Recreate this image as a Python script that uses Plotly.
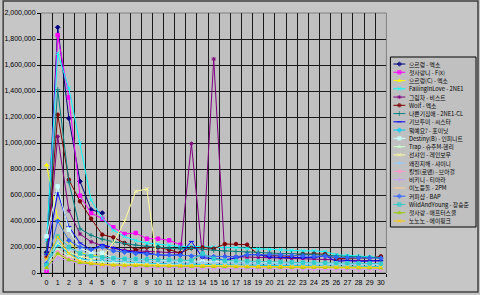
import plotly.graph_objects as go

days = list(range(31))

names = [
    "으르렁 - 엑소", "첫사랑니 - F(x)", "으르렁(C) - 엑소", "FallingInLove - 2NE1",
    "그림자 - 비스트", "Wolf - 엑소", "나쁜기집애 - 2NE1-CL", "기브투미 - 씨스타",
    "뭐예요? - 포미닛", "Destiny(B) - 인피니트", "Trap - 슈주M-헨리", "선샤인 - 레인보우",
    "왜진지해 - 샤이니", "킬빌(로맨) - 브아걸", "비키니 - 티아라", "이노듣돌 - 2PM",
    "커피샵 - BAP", "WildAndYoung - 장승준", "첫사랑 - 애프터스쿨", "노노노 - 에이핑크",
]

colors = [
    "#000080", "#FF00FF", "#FFFF00", "#00FFFF", "#800080", "#800000", "#008080", "#0000FF",
    "#00CCFF", "#CCFFFF", "#CCFFCC", "#FFFF99", "#99CCFF", "#FF99CC", "#CC99FF", "#FFCC99",
    "#3366FF", "#33CCCC", "#99CC00", "#FFCC00",
]

growl = [160000, 1890000, 1190000, 705000, 487000, 462000]
rumpum = [12000, 1830000, 1350000, 595000, 461000, 418000, 351000, 300000, 308000, 264000,
          264000, 251000, 218000]
growl_c = [830000, 418000, 243000, 156000, 141000, 120000]
falling = [250000, 1690000, 1420000, 1000000, 560000, 420000, 330000, 280000, 250000, 230000,
           220000, 215000, 205000, 205000, 200000, 200000, 195000, 195000, 190000, 185000,
           180000, 180000, 175000, 170000, 170000, 165000, 140000, 135000, 130000, 125000, 120000]
shadow = [90000, 1050000, 480000, 300000, 240000, 210000, 190000, 175000, 170000, 165000,
          160000, 158000, 156000, 995000, 118000, 1646000, 128000, 125000, 122000, 120000,
          118000, 115000, 112000, 110000, 108000, 105000, 100000, 98000, 96000, 95000, 93000]
wolf = [120000, 1218000, 718000, 551000, 418000, 295000, 274000, 231000, 179000, 197000,
        197000, 179000, 154000, 192000, 197000, 187000, 223000, 223000, 218000, 141000,
        133000, 133000, 128000, 146000, 148000, 146000, 110000, 115000, 115000, 115000, 128000]
baddest = [150000, 1410000, 700000, 340000, 290000, 260000, 240000, 225000, 215000, 205000,
           200000, 190000, 185000, 190000, 180000, 175000, 170000, 165000, 160000, 160000,
           155000, 150000, 150000, 145000, 145000, 140000, 130000, 125000, 125000, 120000, 115000]
giveit = [140000, 617000, 358000, 231000, 179000, 218000, 195000, 170000, 160000, 154000,
          140000, 135000, 141000, 243000, 118000, 108000, 102000, 115000, 141000, 141000,
          123000, 120000, 118000, 115000, 118000, 133000, 90000, 95000, 90000, 92000, 95000]
whatname = [60000, 220000, 150000, 110000, 95000, 90000, 85000, 80000, 78000, 75000,
            72000, 70000, 70000, 68000, 66000, 65000, 64000, 62000, 60000, 60000,
            58000, 57000, 56000, 55000, 54000, 53000, 52000, 51000, 50000, 50000, 49000]
destiny = [282000, 666000, 333000, 192000, 154000, 154000, 115000, 110000, 105000, 100000,
           98000, 95000, 92000, 90000, 88000, 90000, 92000, 88000, 85000, 85000,
           82000, 80000, 80000, 78000, 77000, 75000, 72000, 70000, 70000, 68000, 66000]
trap = [70000, 180000, 130000, 100000, 90000, 85000, 80000, 75000, 70000, 68000,
        65000, 62000, 60000, 58000, 56000, 55000, 54000, 52000, 50000, 50000,
        48000, 47000, 46000, 45000, 44000, 43000, 42000, 41000, 40000, 40000, 39000]
sunshine = [100000, 230000, 160000, 130000, 110000, 120000, 233000, 397000, 628000, 646000,
            40000, 60000, 58000, 56000, 55000, 54000, 53000, 52000, 50000, 50000,
            49000, 48000, 47000, 46000, 45000, 44000, 43000, 42000, 41000, 40000, 40000]
serious = [90000, 250000, 179000, 179000, 130000, 110000, 100000, 95000, 92000, 90000,
           88000, 86000, 84000, 82000, 80000, 80000, 78000, 76000, 75000, 74000,
           72000, 71000, 70000, 69000, 68000, 67000, 66000, 65000, 64000, 63000, 62000]
killbill = [40000, 160000, 110000, 85000, 70000, 60000, 55000, 50000, 48000, 46000,
            45000, 44000, 43000, 42000, 41000, 40000, 39000, 38000, 37000, 36000,
            35000, 35000, 34000, 33000, 32000, 31000, 30000, 30000, 29000, 29000, 28000]
bikini = [30000, 120000, 90000, 70000, 60000, 55000, 50000, 48000, 46000, 44000,
          42000, 41000, 40000, 39000, 38000, 37000, 36000, 35000, 34000, 33000,
          32000, 32000, 31000, 30000, 30000, 29000, 28000, 28000, 27000, 27000, 26000]
comeback = [50000, 140000, 100000, 80000, 70000, 65000, 60000, 58000, 56000, 54000,
            52000, 50000, 49000, 48000, 47000, 46000, 45000, 44000, 43000, 42000,
            41000, 40000, 40000, 39000, 38000, 37000, 36000, 36000, 35000, 35000, 34000]
coffee = [70000, 400000, 250000, 200000, 180000, 200000, 170000, 160000, 150000, 145000,
          140000, 138000, 135000, 130000, 128000, 126000, 125000, 124000, 140000, 142000,
          140000, 138000, 135000, 130000, 128000, 130000, 120000, 118000, 116000, 115000, 114000]
wild = [60000, 280000, 200000, 150000, 130000, 120000, 115000, 110000, 108000, 105000,
        102000, 100000, 98000, 96000, 150000, 110000, 95000, 92000, 90000, 88000,
        86000, 84000, 82000, 80000, 80000, 78000, 76000, 75000, 74000, 73000, 72000]
firstlove = [40000, 150000, 100000, 80000, 70000, 65000, 60000, 58000, 56000, 55000,
             54000, 53000, 52000, 51000, 50000, 49000, 48000, 47000, 46000, 45000,
             44000, 44000, 43000, 42000, 42000, 41000, 40000, 40000, 39000, 39000, 38000]
nonono = [108000, 277000, 150000, 90000, 77000, 64000, 62000, 60000, 64000, 64000,
          60000, 58000, 56000, 56000, 55000, 54000, 55000, 52000, 52000, 50000,
          50000, 50000, 48000, 48000, 47000, 46000, 46000, 45000, 45000, 44000, 44000]

series = [growl, rumpum, growl_c, falling, shadow, wolf, baddest, giveit, whatname, destiny,
          trap, sunshine, serious, killbill, bikini, comeback, coffee, wild, firstlove, nonono]

symbol_cycle = ["diamond", "square", "triangle-up", "x-thin-open", "asterisk-open",
                "circle", "cross-thin-open", "line-ew-open"]

FONT = "Liberation Sans, Noto Sans CJK KR, sans-serif"
KFONT = "Noto Sans CJK KR, Liberation Sans, sans-serif"

fig = go.Figure()

for i, (nm, col, vals) in enumerate(zip(names, colors, series)):
    sym = symbol_cycle[i % len(symbol_cycle)]
    mk = dict(symbol=sym, size=3.5, color=col, line=dict(color=col, width=1))
    fig.add_trace(go.Scatter(
        x=days[:len(vals)], y=vals, name=nm, mode="lines+markers",
        line=dict(color=col, width=1), marker=mk, showlegend=False,
        xaxis="x", yaxis="y",
    ))
    # custom legend entry drawn on a second pair of axes
    fig.add_trace(go.Scatter(
        x=[3, 9, 15], y=[i, i, i], mode="lines+markers",
        line=dict(color=col, width=1),
        marker=dict(symbol=sym, size=[0, 3.5, 0], color=col, line=dict(color=col, width=1)),
        showlegend=False, hoverinfo="skip", xaxis="x2", yaxis="y2",
    ))
    fig.add_annotation(
        x=17, y=i, xref="x2", yref="y2", text=nm, showarrow=False,
        xanchor="left", yanchor="middle", font=dict(family=KFONT, size=5.8, color="black"),
    )

L, R, T, B = 39, 4, 13, 22
W = 480 - L - R
H = 295 - T - B

fig.update_layout(
    width=480, height=295,
    margin=dict(l=L, r=R, t=T, b=B, pad=0),
    paper_bgcolor="#c6c6c6", plot_bgcolor="#c0c0c0",
    font=dict(family=FONT, size=7, color="black"),
    xaxis=dict(
        domain=[0, (386 - L) / W], range=[-0.5, 30.5],
        tickmode="linear", tick0=0, dtick=1, ticks="", showgrid=False, zeroline=False,
        showline=True, linecolor="black", linewidth=1,
        tickfont=dict(size=7, family=FONT), ticklabelstandoff=3,
        minor=dict(tick0=0.5, dtick=1, showgrid=True, gridcolor="#1a1a1a", gridwidth=1,
                   ticks="outside", ticklen=3, tickcolor="black"),
    ),
    yaxis=dict(
        domain=[0, 1], range=[0, 2000000], tickmode="linear", tick0=0, dtick=200000,
        tickformat=",d", showgrid=True, gridcolor="#1a1a1a", gridwidth=1, zeroline=False,
        showline=True, linecolor="black", linewidth=1, ticks="outside", ticklen=3,
        tickcolor="black", tickfont=dict(size=7, family=FONT),
    ),
    xaxis2=dict(domain=[(390 - L) / W, (476 - L) / W], range=[0, 86], visible=False,
                fixedrange=True),
    yaxis2=dict(domain=[(273 - 227) / H, (273 - 57) / H], range=[19.73, -0.85],
                visible=False, fixedrange=True, anchor="x2"),
    showlegend=False,
)

# legend frame
fig.add_shape(type="rect", xref="x2 domain", yref="y2 domain", x0=0, x1=1, y0=0, y1=1,
              line=dict(color="black", width=1), fillcolor="rgba(0,0,0,0)", layer="below")
# plot area border (gray)
fig.add_shape(type="rect", xref="x domain", yref="y domain", x0=0, x1=1, y0=0, y1=1,
              line=dict(color="#808080", width=1), fillcolor="rgba(0,0,0,0)", layer="below")
# chart area border
fig.add_shape(type="rect", xref="paper", yref="paper",
              x0=(1 - L) / W, x1=(478 - L) / W, y0=(273 - 292) / H, y1=(273 - 1) / H,
              line=dict(color="#404040", width=1.5), fillcolor="rgba(0,0,0,0)", layer="below")

fig.write_html("out.html")
